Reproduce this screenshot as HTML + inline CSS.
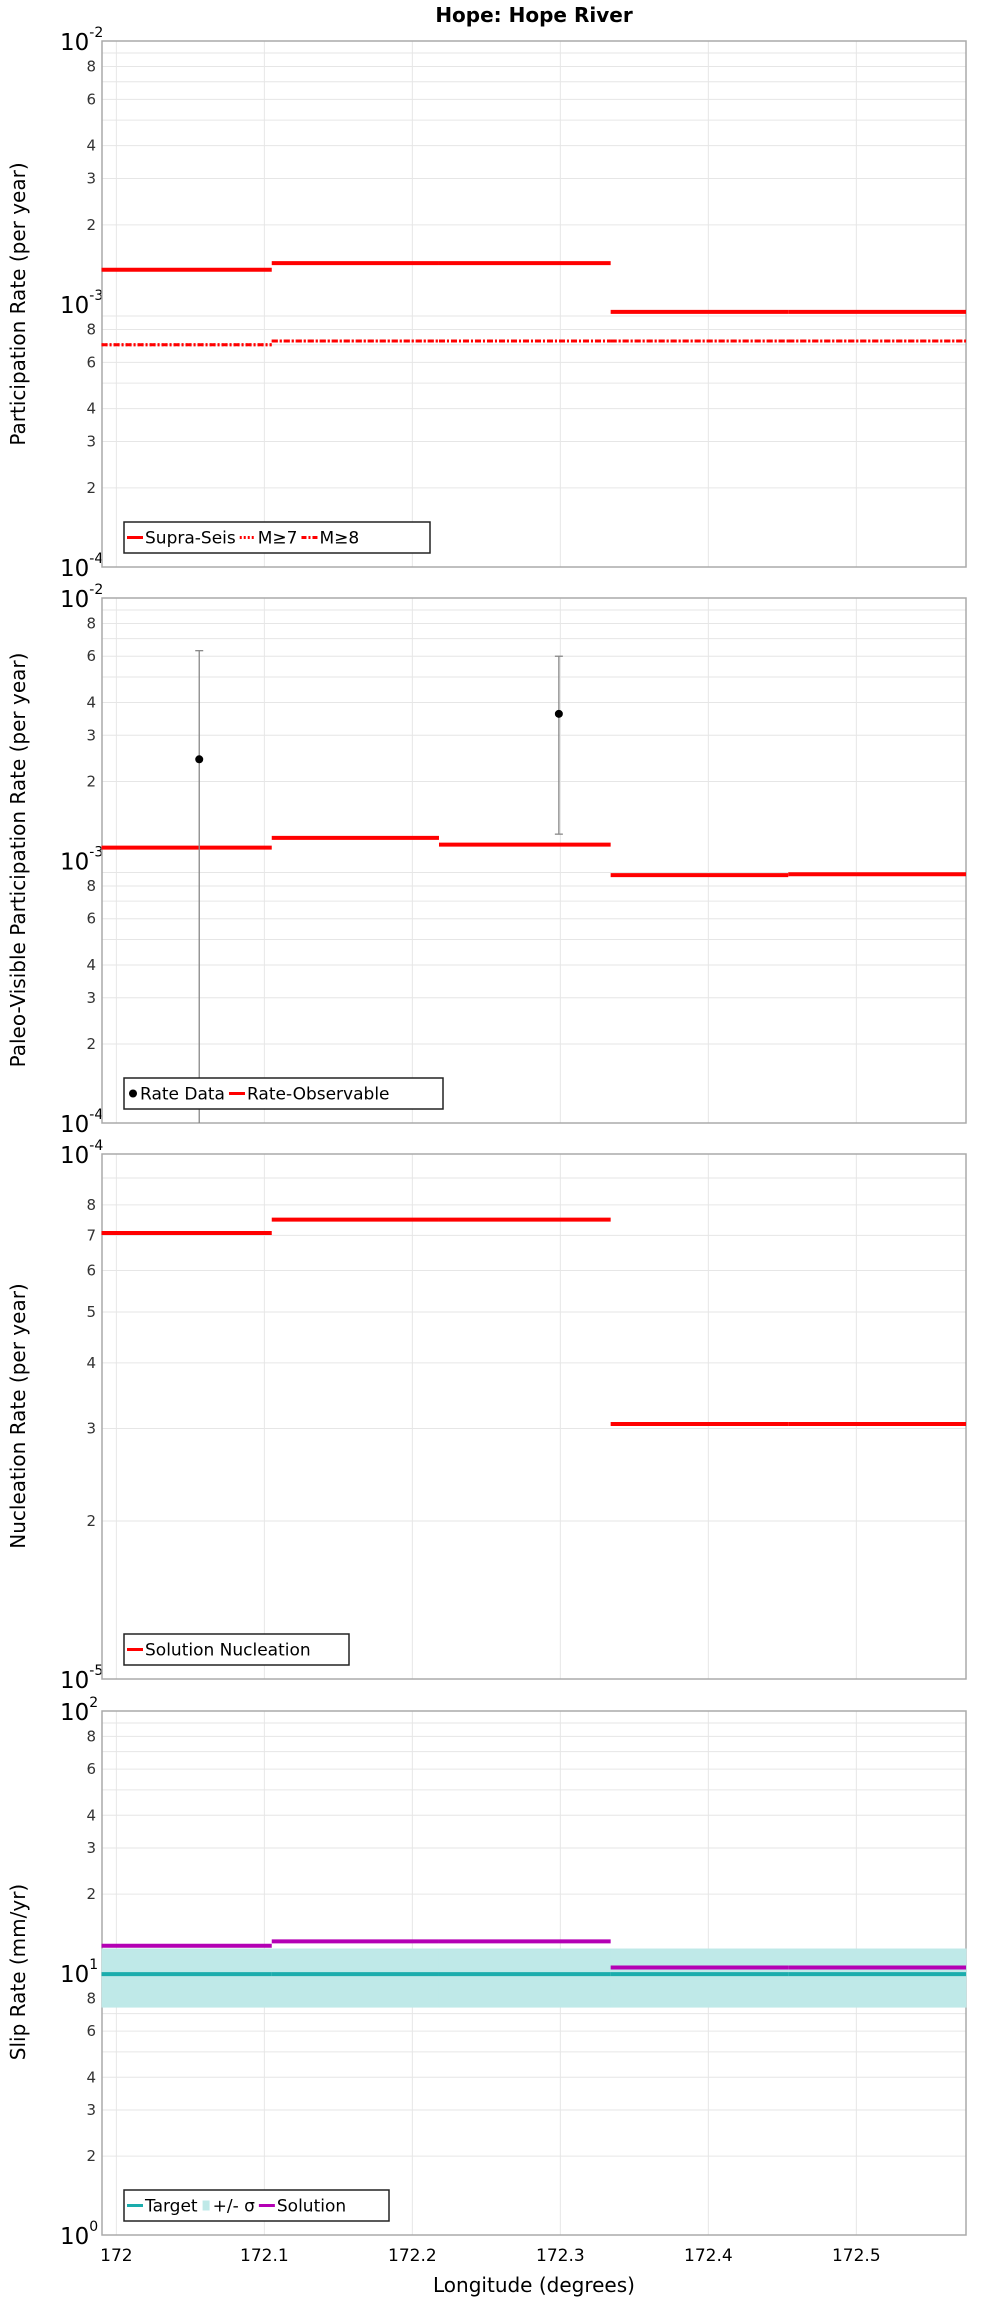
<!DOCTYPE html>
<html><head><meta charset="utf-8"><style>
body{margin:0;background:#fff;}
svg{display:block;font-family:"DejaVu Sans","Liberation Sans",sans-serif;}
</style></head><body>
<svg id="chart" width="1000" height="2300" xmlns="http://www.w3.org/2000/svg"></svg>
<script>
const segBounds = [171.99, 172.105, 172.218, 172.334, 172.454, 172.575];
const xTicks = [172, 172.1, 172.2, 172.3, 172.4, 172.5];
const xTickLabels = ["172", "172.1", "172.2", "172.3", "172.4", "172.5"];
const supraSeis = [1.35e-3, 1.43e-3, 1.43e-3, 9.33e-4, 9.33e-4];
const m7 = [7.0e-4, 7.23e-4, 7.23e-4, 7.23e-4, 7.23e-4];
const m8 = [7.0e-4, 7.23e-4, 7.23e-4, 7.23e-4, 7.23e-4];
const rateLon = [172.056, 172.299];
const rateVal = [2.43e-3, 3.62e-3];
const rateLow = [5e-5, 1.26e-3];
const rateHigh = [6.3e-3, 6.0e-3];
const rateObs = [1.12e-3, 1.22e-3, 1.15e-3, 8.8e-4, 8.86e-4];
const nucleation = [7.07e-5, 7.5e-5, 7.5e-5, 3.06e-5, 3.06e-5];
const slipTarget = [9.9, 9.9, 9.9, 9.9, 9.9];
const slipLow = [7.38, 7.38, 7.38, 7.38, 7.38];
const slipHigh = [12.4, 12.4, 12.4, 12.4, 12.4];
const slipSolution = [12.7, 13.2, 13.2, 10.5, 10.5];

const NS = "http://www.w3.org/2000/svg";
const svg = document.getElementById("chart");
const X0 = 102, X1 = 966, LONMIN = 171.9903, LONMAX = 172.5741;
function xs(v){ return X0 + (v - LONMIN) / (LONMAX - LONMIN) * (X1 - X0); }
function mk(tag, attrs, parent){ const e = document.createElementNS(NS, tag); for (const k in attrs) e.setAttribute(k, attrs[k]); (parent || svg).appendChild(e); return e; }

const title = mk("text", {x: 534, y: 22, "text-anchor": "middle", "font-size": 20, "font-weight": "bold"});


title.textContent = "Hope: Hope River";

function panel(name, top, bottom, emin, emax, labeled, ytitle, tcx){
  const g = mk("g", {});
  
  
  const ys = v => bottom - (Math.log10(v) - emin) / (emax - emin) * (bottom - top);
  for (let e = emin; e < emax; e++) {
    for (let m = 2; m <= 9; m++) {
      const v = m * Math.pow(10, e); const y = ys(v);
      const gl = mk("line", {x1: X0, x2: X1, y1: y, y2: y, stroke: "#e6e6e6", "stroke-width": 1}, g);
      
      
      if (labeled.includes(m)) {
        const t = mk("text", {x: 96, y: y + 5, "text-anchor": "end", "font-size": 15, fill: "#333"}, g);
        
        
        t.textContent = m;
      }
    }
  }
  for (let e = emin; e <= emax; e++) {
    const y = ys(Math.pow(10, e));
    const t = mk("text", {x: 60, y: y + 9, "font-size": 23, fill: "#000"}, g);
    
    
    t.textContent = "10";
    const s = mk("tspan", {dy: -13, "font-size": 14}, t);
    s.textContent = String(e);
  }
  xTicks.forEach(v => {
    const gl = mk("line", {x1: xs(v), x2: xs(v), y1: top, y2: bottom, stroke: "#e6e6e6", "stroke-width": 1}, g);
    
    
  });
  const fr = mk("rect", {x: X0, y: top, width: X1 - X0, height: bottom - top, fill: "none", stroke: "#aaa", "stroke-width": 1.5}, g);
  
  
  const yt = mk("text", {x: 0, y: 0, "text-anchor": "middle", "font-size": 20, transform: `translate(25,${tcx}) rotate(-90)`}, g);
  
  
  yt.textContent = ytitle;
  return {g, ys};
}
function steps(p, vals, color, dash, nm, w){
  vals.forEach((v, i) => {
    const l = mk("line", {x1: xs(segBounds[i]), x2: Math.min(xs(segBounds[i + 1]), X1), y1: p.ys(v), y2: p.ys(v), stroke: color, "stroke-width": w || 4}, p.g);
    if (dash) l.setAttribute("stroke-dasharray", dash);
    
    
  });
}
function legend(p, x, y, w, h, items){
  const r = mk("rect", {x, y, width: w, height: h, fill: "#fff", stroke: "#222", "stroke-width": 1.5}, p.g);
  
  
  let cx = x + 3;
  items.forEach(it => {
    if (it.type === "dot") {
      const c = mk("circle", {cx: cx + 6, cy: y + h / 2, r: 4, fill: "#000"}, p.g);
      
      
      cx += 13;
    } else if (it.type === "band") {
      const c = mk("rect", {x: cx + 1, y: y + h / 2 - 5, width: 7, height: 10, fill: "#bfe9e8"}, p.g);
      
      
      cx += 11;
    } else {
      const l = mk("line", {x1: cx, x2: cx + 16, y1: y + h / 2, y2: y + h / 2, stroke: it.color, "stroke-width": 3}, p.g);
      if (it.dash) l.setAttribute("stroke-dasharray", it.dash);
      
      
      cx += 18;
    }
    const t = mk("text", {x: cx, y: y + h / 2 + 6, "font-size": 17, fill: "#000"}, p.g);
    
    
    t.textContent = it.label;
    cx += t.getComputedTextLength() + 4;
  });
}

const p1 = panel("participation-panel", 41, 567, -4, -2, [2,3,4,6,8], "Participation Rate (per year)", 304);
steps(p1, supraSeis, "#ff0000", null, "supra-seis-line");
steps(p1, m7, "#ff0000", "2,2", "m7-line", 3);
steps(p1, m8, "#ff0000", "6,2,2,2", "m8-line", 3);
legend(p1, 124, 522, 306, 31, [{label: "Supra-Seis", color: "#f00"}, {label: "M\u22657", color: "#f00", dash: "2,2"}, {label: "M\u22658", color: "#f00", dash: "5,2,2,2"}]);

const p2 = panel("paleo-panel", 598, 1123, -4, -2, [2,3,4,6,8], "Paleo-Visible Participation Rate (per year)", 860);
steps(p2, rateObs, "#ff0000", null, "rate-observable-line");
rateLon.forEach((lon, i) => {
  const x = xs(lon);
  const y1 = Math.min(p2.ys(rateLow[i]), 1123), y2 = p2.ys(rateHigh[i]);
  const eb = mk("line", {x1: x, x2: x, y1: y1, y2: y2, stroke: "#888", "stroke-width": 1.3}, p2.g);
  
  
  [rateLow[i], rateHigh[i]].forEach(v => {
    const yy = p2.ys(v); if (yy > 1123) return;
    const cap = mk("line", {x1: x - 4, x2: x + 4, y1: yy, y2: yy, stroke: "#888", "stroke-width": 1.3}, p2.g);
    
    
  });
  const c = mk("circle", {cx: x, cy: p2.ys(rateVal[i]), r: 4, fill: "#000"}, p2.g);
  
  
});
legend(p2, 124, 1078, 319, 31, [{label: "Rate Data", type: "dot"}, {label: "Rate-Observable", color: "#f00"}]);

const p3 = panel("nucleation-panel", 1154, 1679, -5, -4, [2,3,4,5,6,7,8], "Nucleation Rate (per year)", 1416);
steps(p3, nucleation, "#ff0000", null, "solution-nucleation-line");
legend(p3, 124, 1634, 225, 31, [{label: "Solution Nucleation", color: "#f00"}]);

const p4 = panel("slip-rate-panel", 1711, 2235, 0, 2, [2,3,4,6,8], "Slip Rate (mm/yr)", 1972);
slipLow.forEach((v, i) => {
  const x1 = xs(segBounds[i]), x2 = Math.min(xs(segBounds[i + 1]), X1);
  const r = mk("rect", {x: x1, y: p4.ys(slipHigh[i]), width: x2 - x1 + 0.5, height: p4.ys(v) - p4.ys(slipHigh[i]), fill: "#bfe9e8"}, p4.g);
  
  
});
steps(p4, slipTarget, "#1aacac", null, "target-line");
steps(p4, slipSolution, "#b400b4", null, "solution-line");
legend(p4, 124, 2190, 265, 31, [{label: "Target", color: "#1aacac"}, {label: "+/- \u03c3", type: "band"}, {label: "Solution", color: "#b400b4"}]);

xTicks.forEach((v, i) => {
  const t = mk("text", {x: xs(v), y: 2261, "text-anchor": "middle", "font-size": 17});
  
  
  t.textContent = xTickLabels[i];
});
const xt = mk("text", {x: 534, y: 2292, "text-anchor": "middle", "font-size": 20});


xt.textContent = "Longitude (degrees)";
</script>
</body></html>
